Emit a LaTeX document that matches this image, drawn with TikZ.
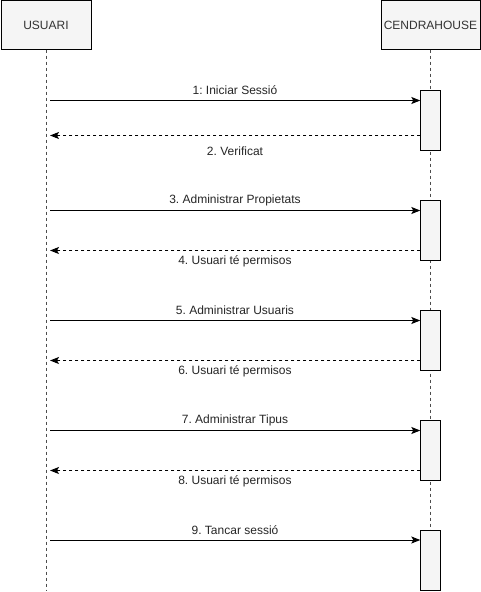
\documentclass[tikz,border=0pt]{standalone}
\usepackage{fontspec}
\setmainfont{Liberation Sans}
\frenchspacing
\usetikzlibrary{arrows.meta}
\definecolor{boxfill}{HTML}{F5F5F5}
\begin{document}
\begin{tikzpicture}[x=1pt,y=-1pt,
  actor/.style={draw=black,fill=boxfill,minimum width=90pt,minimum height=49pt,inner sep=0pt,font=\fontsize{12}{14}\selectfont,text=black!80},
  actbox/.style={draw=black,fill=boxfill,minimum width=20pt,inner sep=0pt},
  life/.style={draw=black!70,dashed,dash pattern=on 3pt off 3pt,line width=0.8pt},
  msg/.style={draw=black,line width=0.9pt,-{Stealth[length=9pt,width=7pt,inset=2pt]}},
  ret/.style={msg,dash pattern=on 3pt off 3pt},
  lbl/.style={font=\fontsize{12}{14}\selectfont,text=black!85,inner sep=0pt}]
\useasboundingbox (0,0) rectangle (481,592);
\fill[white] (0,0) rectangle (481,592);
% lifelines
\node[actor] (usuari) at (46,25) {USUARI};
\node[actor,minimum width=99pt] (cendra) at (430.5,25) {CENDRAHOUSE};
\coordinate (uend) at (46,590);
\coordinate (cend) at (430.5,590);
\draw[life] (usuari.south) -- (uend);
\draw[life] (cendra.south) -- (cend);
% activation boxes
\foreach \i/\y in {1/90,2/200,3/310,4/420,5/530}{
  \node[actbox,minimum height=60pt,anchor=north] (act\i) at (430.5,\y) {};
}
% messages
\foreach \i/\y/\t in {1/100.5/{1: Iniciar Sessió},2/210.5/{3. Administrar Propietats},3/320.5/{5. Administrar Usuaris},4/430.5/{7. Administrar Tipus},5/540/{9. Tancar sessió}}{
  \coordinate (s\i) at (50,\y);
  \coordinate (e\i) at (act\i.west |- s\i);
  \draw[msg] (s\i) -- (e\i);
  \node[lbl] (ml\i) at (235,\y-10) {\t};
}
\foreach \i/\y in {1/135.5,2/250.5,3/360.5,4/470.5}{
  \coordinate (r\i) at (act\i.west |- 0,\y);
  \coordinate (q\i) at (50,\y);
  \draw[ret] (r\i) -- (q\i);
}
\node[lbl] (rl1) at (235,151) {2. Verificat};
\node[lbl] (rl2) at (235,261) {4. Usuari té permisos};
\node[lbl] (rl3) at (235,371) {6. Usuari té permisos};
\node[lbl] (rl4) at (235,481) {8. Usuari té permisos};
\end{tikzpicture}
\end{document}
